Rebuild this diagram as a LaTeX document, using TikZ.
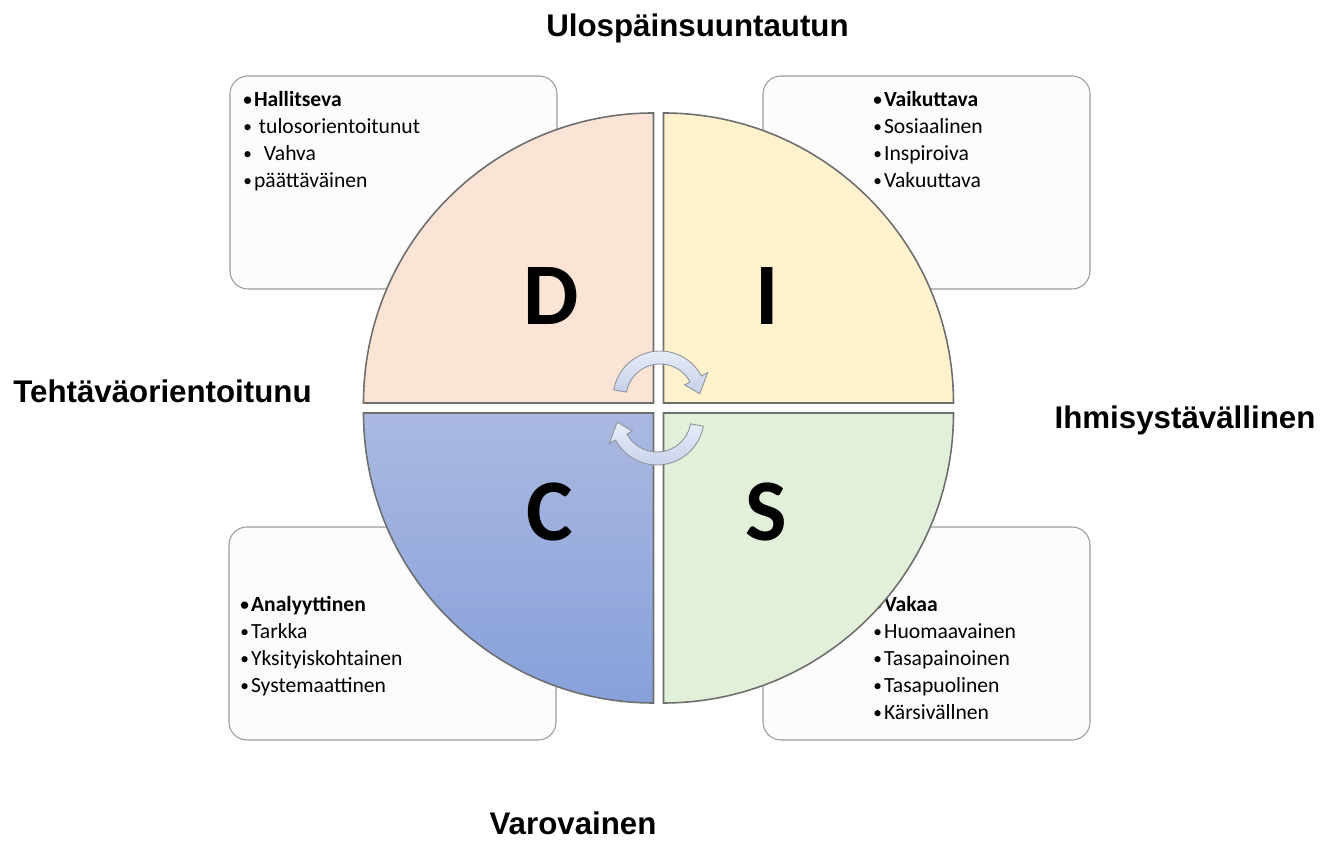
\documentclass[tikz,border=0pt]{standalone}
\usepackage{fontspec}
\setmainfont{Carlito}
\newfontfamily\headfont{Liberation Sans}
\newcommand\bul{\raisebox{0.6pt}{\scalebox{0.8}{•}}\kern1.2pt}
\definecolor{discD}{HTML}{FBE4D5}
\definecolor{discI}{HTML}{FFF2CC}
\definecolor{discS}{HTML}{E2EFD9}
\definecolor{discCtop}{HTML}{ABB9E1}
\definecolor{discCbot}{HTML}{86A0DA}
\definecolor{discEdge}{HTML}{6E6E6E}
\definecolor{boxEdge}{HTML}{9B9B9B}
\definecolor{boxFill}{HTML}{FCFCFC}
\definecolor{turnTop}{HTML}{E9EDF8}
\definecolor{turnBot}{HTML}{C6D0EA}
\definecolor{turnEdge}{HTML}{8E939C}
\tikzset{
  % one unit is one pixel of the original sketch
  infobox/.style   = {draw=boxEdge, fill=boxFill, line width=0.6pt, rounded corners=0.36cm},
  itemtxt/.style   = {anchor=base west, inner sep=0pt, font=\fontsize{12.3}{15}\selectfont},
  quadline/.style  = {draw=discEdge, line width=0.9pt},
  biglbl/.style    = {inner sep=0pt, font=\fontsize{50}{50}\selectfont\bfseries},
  headlbl/.style   = {anchor=base, inner sep=0pt, font=\headfont\bfseries\fontsize{17.8}{20}\selectfont},
  turnarrow/.style = {draw=turnEdge, line width=0.5pt, top color=turnTop, bottom color=turnBot},
}

\begin{document}
\begin{tikzpicture}[x=0.02cm,y=0.02cm]
  \useasboundingbox (0,0) rectangle (1330,841);
  % text boxes, behind the disc
  \draw[infobox] (230,552) rectangle (557,765);
  \draw[infobox] (763,552) rectangle (1090,765);
  \draw[infobox] (229,101) rectangle (556,314);
  \draw[infobox] (763,101) rectangle (1090,314);
  \foreach \txt [count=\i] in {\textbf{\bul Hallitseva}, \bul\ tulosorientoitunut, \bul~~Vahva, \bul päättäväinen}
    \node[itemtxt] (d\i) at (243,{761.3-27*\i}) {\txt};
  \foreach \txt [count=\i] in {\textbf{\bul Vaikuttava}, \bul Sosiaalinen, \bul Inspiroiva, \bul Vakuuttava}
    \node[itemtxt] (i\i) at (873,{761.3-27*\i}) {\txt};
  \foreach \txt [count=\i] in {\textbf{\bul Analyyttinen}, \bul Tarkka, \bul Yksityiskohtainen, \bul Systemaattinen}
    \node[itemtxt] (c\i) at (240,{256.3-27*\i}) {\txt};
  \foreach \txt [count=\i] in {\textbf{\bul Vakaa}, \bul Huomaavainen, \bul Tasapainoinen, \bul Tasapuolinen, \bul Kärsivällnen}
    \node[itemtxt] (s\i) at (873,{256.3-27*\i}) {\txt};
  % the four quarters
  \draw[quadline, fill=discD] (653.5,438) -- ++(0,290) arc[start angle=90, end angle=180, radius=290] -- cycle;
  \draw[quadline, fill=discI] (663.5,438) -- ++(290,0) arc[start angle=0, end angle=90, radius=290] -- cycle;
  \draw[quadline, top color=discCtop, bottom color=discCbot] (653.5,428) -- ++(-290,0)
    arc[start angle=180, end angle=270, radius=290] -- cycle;
  \draw[quadline, fill=discS] (663.5,428) -- ++(0,-290) arc[start angle=270, end angle=360, radius=290] -- cycle;
  \node[biglbl] (letD) at (551.5,544.5) {D};
  \node[biglbl] (letI) at (767,544.5) {I};
  \node[biglbl] (letC) at (550,328.5) {C};
  \node[biglbl] (letS) at (766,328.5) {S};
  % turning arrows in the middle
  \foreach \rot in {0,180} {
    \begin{scope}[rotate around={\rot:(658.5,433)}]
      \draw[turnarrow, shift={(660,443)}] (170:47) arc[start angle=170, end angle=28, radius=47]
        -- (28:54) -- (6:40) -- (28:28) -- (28:34) arc[start angle=28, end angle=170, radius=34] -- cycle;
    \end{scope}
  }
  % the four directions
  \node[headlbl] (hdUp) at (697.5,804.3) {Ulospäinsuuntautun};
  \node[headlbl] (hdLeft) at (162.5,438.3) {Tehtäväorientoitunu};
  \node[headlbl] (hdRight) at (1185,412.7) {Ihmisystävällinen};
  \node[headlbl] (hdDown) at (573,6) {Varovainen};
\end{tikzpicture}
\end{document}
